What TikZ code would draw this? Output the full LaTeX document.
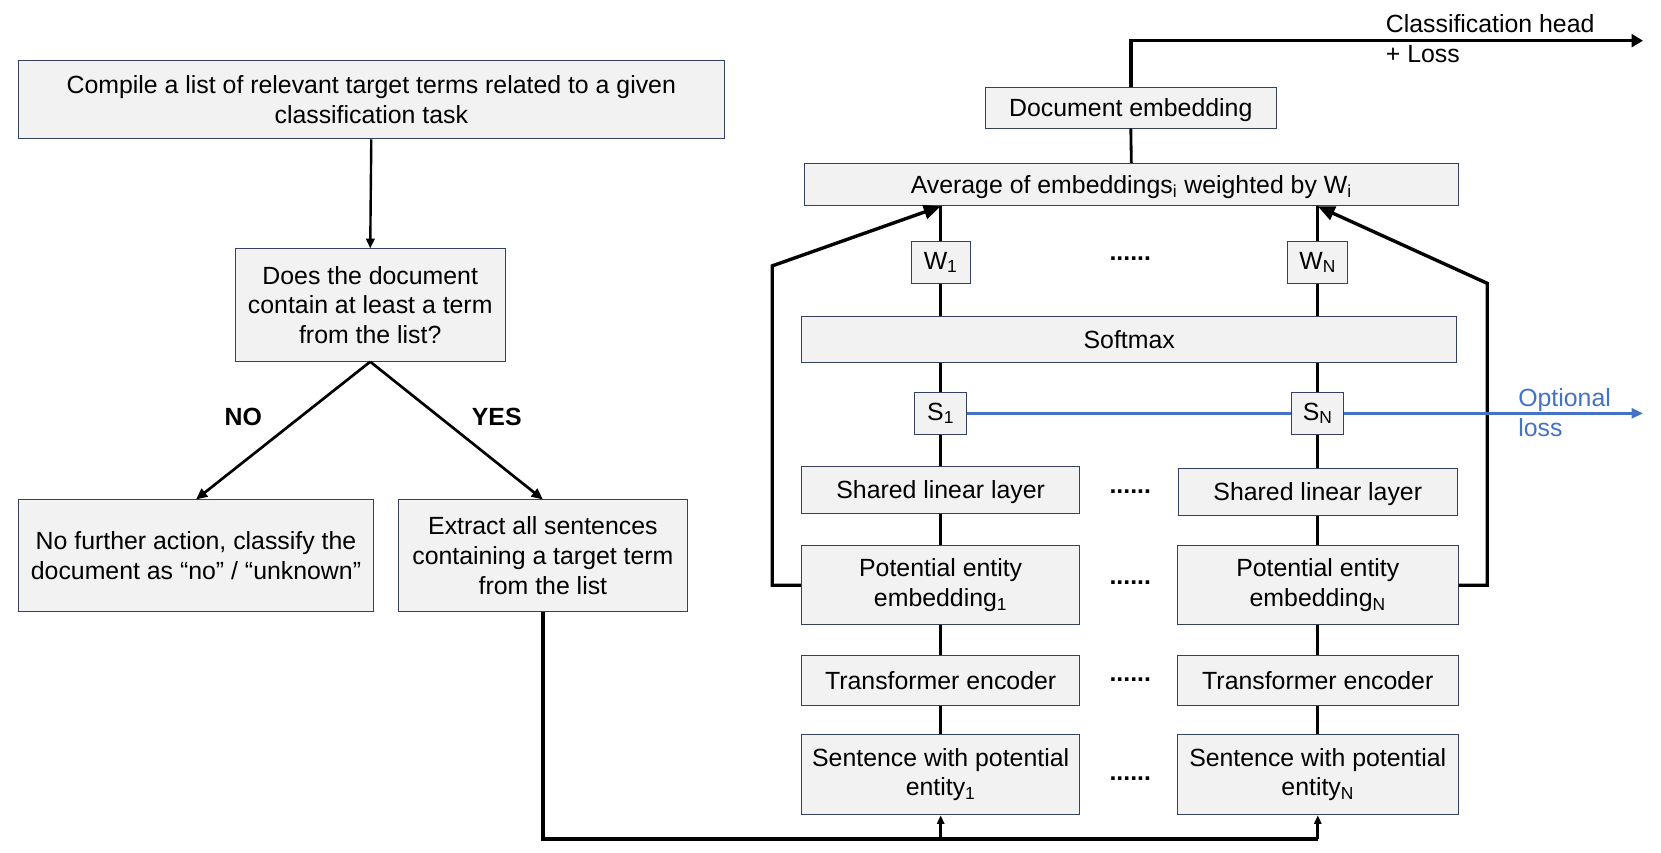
\documentclass[tikz,border=0pt]{standalone}
\usepackage{fontspec}
\setmainfont{Liberation Sans}
\usetikzlibrary{arrows.meta}
\definecolor{boxfill}{RGB}{242,242,242}
\definecolor{boxline}{RGB}{52,66,96}
\definecolor{optblue}{RGB}{68,114,196}
\newcommand{\fsz}{\fontsize{17.6}{21}\selectfont}
\begin{document}
\begin{tikzpicture}[x=0.75pt,y=-0.75pt,
  box/.style={draw=boxline, fill=boxfill, line width=0.7pt, inner sep=0pt, align=center, font=\fsz},
  one/.style={text height=16pt, text depth=3.7pt},
  wh/.style 2 args={minimum width=#1*0.75pt, minimum height=#2*0.75pt},
  lbl/.style={inner sep=0pt, font=\fsz},
  conn/.style={line width=2pt, black},
  thinarr/.style={line width=1.7pt, -{Triangle[length=7pt,width=6pt]}},
  diagarr/.style={line width=1.9pt, -{Triangle[length=8pt,width=7pt]}},
  fbarr/.style={line width=2.4pt, -{Triangle[length=12pt,width=10pt]}},
  route/.style={line width=2.3pt},
  uparr/.style={line width=2.3pt, -{Triangle[length=6pt,width=5pt]}},
  headarr/.style={line width=2.4pt, -{Triangle[length=8pt,width=9pt]}},
  bluearr/.style={line width=1.9pt, optblue},
]
\useasboundingbox (0,0) rectangle (1568,805.2);

% ---------------- left flowchart ----------------
\node[box, wh={667}{74}] (A) at (350.5,94) {Compile a list of relevant target terms related to a given\\classification task};
\node[box, wh={255}{106}] (B) at (349.5,288) {Does the document\\contain at least a term\\from the list?};
\node[box, wh={336}{105}] (C) at (185,524.5) {No further action, classify the\\document as “no” / “unknown”};
\node[box, wh={273}{105}] (D) at (512.5,524.5) {Extract all sentences\\containing a target term\\from the list};

\node[lbl, font=\fsz\bfseries] (no) at (229.7,394) {NO};
\node[lbl, font=\fsz\bfseries] (yes) at (468.9,394) {YES};

\draw[thinarr] (A.south) -- (B.north);
\draw[diagarr] (B.south) -- (C.north);
\draw[diagarr] (B.south) -- (D.north);

% ---------------- right network ----------------
\node[box, one, wh={275}{38}] (DE) at (1067.5,102) {Document embedding};
\node[box, one, wh={618}{40}] (AVG) at (1068,174.3) {Average of embeddings\textsubscript{i} weighted by W\textsubscript{i}};
\node[box, wh={56}{39.5}] (W1) at (888,247.8) {W\textsubscript{1}};
\node[box, wh={57}{39.5}] (WN) at (1244,247.8) {W\textsubscript{N}};
\node[box, one, wh={618}{43}] (SM) at (1066,320.7) {Softmax};
\node[box, wh={49}{39.6}] (S1) at (888,390.2) {S\textsubscript{1}};
\node[box, wh={49}{39.6}] (SN) at (1244,390.2) {S\textsubscript{N}};
\node[box, one, wh={263}{45}] (SL1) at (888,462.5) {Shared linear layer};
\node[box, one, wh={263}{45}] (SLN) at (1244,464.5) {Shared linear layer};
\node[box, wh={263}{75}] (PE1) at (888,552.5) {Potential entity\\embedding\textsubscript{1}};
\node[box, wh={265}{75}] (PEN) at (1244,552.5) {Potential entity\\embedding\textsubscript{N}};
\node[box, one, wh={263}{47}] (TE1) at (888,642.5) {Transformer encoder};
\node[box, one, wh={265}{47}] (TEN) at (1244,642.5) {Transformer encoder};
\node[box, wh={263}{76}] (SE1) at (888,731.2) {Sentence with potential\\entity\textsubscript{1}};
\node[box, wh={265}{76}] (SEN) at (1244,731.2) {Sentence with potential\\entity\textsubscript{N}};

% dots
\node[lbl, font=\fsz\bfseries] (dw) at (1067,243.9) {......};
\node[lbl, font=\fsz\bfseries] (dsl) at (1067,464) {......};
\node[lbl, font=\fsz\bfseries] (dpe) at (1067,550) {......};
\node[lbl, font=\fsz\bfseries] (dte) at (1067,642) {......};
\node[lbl, font=\fsz\bfseries] (dse) at (1067,735) {......};

% labels
\node[lbl, anchor=west, align=left] (chl) at (1308,36.5) {Classification head\\+ Loss};
\node[lbl, anchor=west, align=left, text=optblue] (oll) at (1433,389.5) {Optional\\loss};

% stack connectors
\foreach \s in {1,N}{
  \draw[conn] (SE\s.north) -- (TE\s.south);
  \draw[conn] (TE\s.north) -- (PE\s.south);
  \draw[conn] (PE\s.north) -- (SL\s.south);
  \draw[conn] (SL\s.north) -- (S\s.south);
  \draw[conn] (S\s.north) -- (SM.south -| S\s.north);
  \draw[conn] (SM.north -| W\s.south) -- (W\s.south);
  \draw[conn] (W\s.north) -- (AVG.south -| W\s.north);
}
\draw[conn] (AVG.north) -- (DE.south);

% classification head
\coordinate (chend) at (1551,38.4);
\draw[headarr] (DE.north) |- (chend);

% feedback arrows
\coordinate (fl) at (729,251);
\coordinate (fr) at (1404,267.5);
\draw[fbarr] (PE1.west) -| (fl) -- (AVG.south -| W1.north);
\draw[fbarr] (PEN.east) -| (fr) -- (AVG.south -| WN.north);

% optional loss (blue)
\coordinate (olend) at (1551,390.2);
\draw[bluearr] (S1.east) -- (SN.west);
\draw[bluearr, -{Triangle[length=8pt,width=7pt]}] (SN.east) -- (olend);

% bottom routing
\coordinate (bt) at (0,792);
\draw[route] (D.south) |- (bt -| SEN.south);
\draw[uparr] (bt -| SE1.south) -- (SE1.south);
\draw[uparr] (bt -| SEN.south) -- (SEN.south);
\end{tikzpicture}
\end{document}
